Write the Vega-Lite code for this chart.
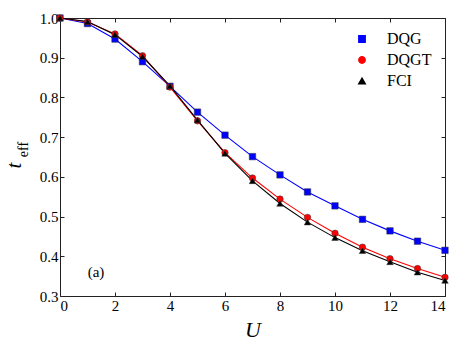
{
  "$schema": "https://vega.github.io/schema/vega-lite/v6.json",
  "width": 385,
  "height": 278,
  "autosize": "none",
  "padding": {"left": 60, "top": 18, "right": 18, "bottom": 52},
  "background": "white",
  "config": {
    "view": {"stroke": "#222", "strokeWidth": 1},
    "axis": {
      "domain": false,
      "grid": false,
      "labelFont": "Liberation Serif, Times New Roman, serif",
      "labelFontSize": 15,
      "labelColor": "black",
      "tickColor": "#222",
      "tickSize": -4,
      "labelPadding": 6
    },
    "legend": {"labelFont": "Liberation Serif, Times New Roman, serif"}
  },
  "data": {
    "values": [
      {"U": 0, "method": "DQG", "teff": 1.0},
      {"U": 1, "method": "DQG", "teff": 0.986},
      {"U": 2, "method": "DQG", "teff": 0.947},
      {"U": 3, "method": "DQG", "teff": 0.890},
      {"U": 4, "method": "DQG", "teff": 0.828},
      {"U": 5, "method": "DQG", "teff": 0.763},
      {"U": 6, "method": "DQG", "teff": 0.705},
      {"U": 7, "method": "DQG", "teff": 0.651},
      {"U": 8, "method": "DQG", "teff": 0.605},
      {"U": 9, "method": "DQG", "teff": 0.562},
      {"U": 10, "method": "DQG", "teff": 0.527},
      {"U": 11, "method": "DQG", "teff": 0.493},
      {"U": 12, "method": "DQG", "teff": 0.464},
      {"U": 13, "method": "DQG", "teff": 0.438},
      {"U": 14, "method": "DQG", "teff": 0.415},
      {"U": 0, "method": "DQGT", "teff": 1.0},
      {"U": 1, "method": "DQGT", "teff": 0.990},
      {"U": 2, "method": "DQGT", "teff": 0.960},
      {"U": 3, "method": "DQGT", "teff": 0.905},
      {"U": 4, "method": "DQGT", "teff": 0.826},
      {"U": 5, "method": "DQGT", "teff": 0.741},
      {"U": 6, "method": "DQGT", "teff": 0.661},
      {"U": 7, "method": "DQGT", "teff": 0.597},
      {"U": 8, "method": "DQGT", "teff": 0.544},
      {"U": 9, "method": "DQGT", "teff": 0.498},
      {"U": 10, "method": "DQGT", "teff": 0.458},
      {"U": 11, "method": "DQGT", "teff": 0.423},
      {"U": 12, "method": "DQGT", "teff": 0.394},
      {"U": 13, "method": "DQGT", "teff": 0.369},
      {"U": 14, "method": "DQGT", "teff": 0.347},
      {"U": 0, "method": "FCI", "teff": 1.0},
      {"U": 1, "method": "FCI", "teff": 0.991},
      {"U": 2, "method": "FCI", "teff": 0.958},
      {"U": 3, "method": "FCI", "teff": 0.903},
      {"U": 4, "method": "FCI", "teff": 0.829},
      {"U": 5, "method": "FCI", "teff": 0.743},
      {"U": 6, "method": "FCI", "teff": 0.659},
      {"U": 7, "method": "FCI", "teff": 0.590},
      {"U": 8, "method": "FCI", "teff": 0.533},
      {"U": 9, "method": "FCI", "teff": 0.486},
      {"U": 10, "method": "FCI", "teff": 0.447},
      {"U": 11, "method": "FCI", "teff": 0.414},
      {"U": 12, "method": "FCI", "teff": 0.386},
      {"U": 13, "method": "FCI", "teff": 0.360},
      {"U": 14, "method": "FCI", "teff": 0.339}
    ]
  },
  "layer": [
    {
      "mark": {"type": "line", "strokeWidth": 1.1},
      "encoding": {
        "x": {
          "field": "U", "type": "quantitative",
          "scale": {"domain": [0, 14], "nice": false, "zero": false},
          "axis": {
            "orient": "bottom", "title": "U",
            "labelFont": "Liberation Serif, Times New Roman, serif",
            "titleFont": "Liberation Serif", "titleFontStyle": "italic",
            "titleFontWeight": "normal", "titleFontSize": 22, "titleColor": "black",
            "titlePadding": 6,
            "values": [0, 2, 4, 6, 8, 10, 12, 14], "format": "d"
          }
        },
        "y": {
          "field": "teff", "type": "quantitative",
          "scale": {"domain": [0.3, 1.0], "nice": false, "zero": false},
          "axis": {
            "orient": "left", "title": "t",
            "labelFont": "Liberation Serif, Times New Roman, serif",
            "titleFont": "Liberation Serif", "titleFontStyle": "italic",
            "titleFontWeight": "normal", "titleFontSize": 21, "titleColor": "black",
            "titleAngle": -90, "titleBaseline": "alphabetic", "titleAlign": "center",
            "titleX": -40, "titleY": 147,
            "values": [0.3, 0.4, 0.5, 0.6, 0.7, 0.8, 0.9, 1.0], "format": ".1f"
          }
        },
        "color": {
          "field": "method", "type": "nominal",
          "scale": {"domain": ["DQG", "DQGT", "FCI"], "range": ["#0000ff", "#ff0000", "#000000"]}
        }
      }
    },
    {
      "mark": {"type": "point", "filled": true, "size": 42, "opacity": 1, "stroke": "#333", "strokeWidth": 0.5},
      "encoding": {
        "x": {
          "field": "U", "type": "quantitative",
          "axis": {"orient": "top", "title": null, "labels": false, "values": [0, 2, 4, 6, 8, 10, 12, 14]}
        },
        "y": {
          "field": "teff", "type": "quantitative",
          "axis": {"orient": "right", "title": null, "labels": false, "values": [0.3, 0.4, 0.5, 0.6, 0.7, 0.8, 0.9, 1.0]}
        },
        "color": {
          "field": "method", "type": "nominal",
          "legend": {
            "orient": "none", "legendX": 294, "legendY": 13,
            "title": null, "symbolSize": 40, "labelOffset": 17,
            "labelFont": "Liberation Serif, Times New Roman, serif", "labelFontSize": 16, "labelColor": "black",
            "rowPadding": 5, "padding": 0
          }
        },
        "shape": {
          "field": "method", "type": "nominal",
          "scale": {"domain": ["DQG", "DQGT", "FCI"], "range": ["square", "circle", "triangle-up"]},
          "legend": null
        }
      }
    },
    {
      "data": {"values": [{"label": "(a)", "U": 1.31, "teff": 0.36}]},
      "mark": {"type": "text", "font": "Liberation Serif", "fontSize": 15, "align": "center", "baseline": "middle", "color": "black"},
      "encoding": {
        "x": {"field": "U", "type": "quantitative", "axis": null},
        "y": {
          "field": "teff", "type": "quantitative",
          "axis": {
            "orient": "left", "title": "eff", "labels": false, "ticks": false,
            "titleFont": "Liberation Serif", "titleFontWeight": "normal",
            "titleFontSize": 14, "titleColor": "black",
            "titleAngle": -90, "titleBaseline": "alphabetic", "titleAlign": "center",
            "titleX": -33, "titleY": 131
          }
        },
        "text": {"field": "label"}
      }
    }
  ],
  "resolve": {"axis": {"x": "independent", "y": "independent"}}
}
